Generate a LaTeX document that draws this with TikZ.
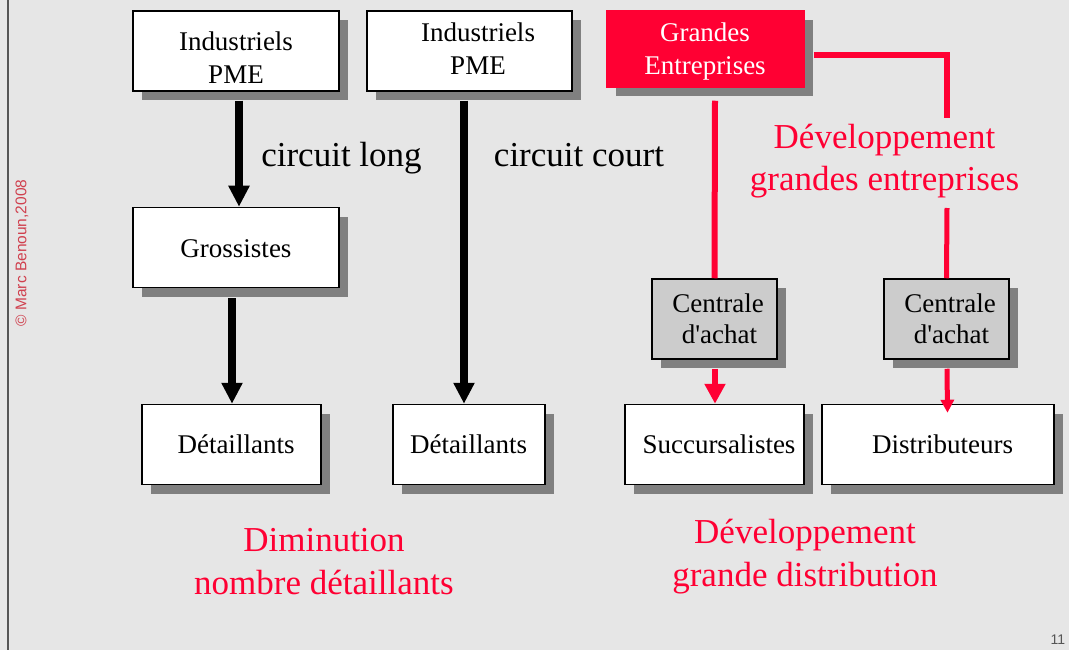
\documentclass[tikz,border=0pt]{standalone}
\usepackage{fontspec}
\setmainfont{Liberation Serif}
\setsansfont{Liberation Sans}
\usetikzlibrary{shadows,arrows.meta,calc}

\definecolor{bg}{HTML}{E6E6E6}
\definecolor{redbrand}{HTML}{FF0033}
\definecolor{shadowgray}{HTML}{808080}
\definecolor{centralgray}{HTML}{CCCCCC}
\definecolor{copyred}{HTML}{D0404E}
\definecolor{rulegray}{HTML}{555555}

\tikzset{
  box/.style={draw=black, line width=1.5pt, fill=white, inner sep=0pt,
    general shadow={fill=shadowgray, shadow xshift=9pt, shadow yshift=-9pt}},
  redbox/.style={box, draw=redbrand, fill=redbrand},
  graybox/.style={box, fill=centralgray},
  % anchor=base sits on the baseline of the last line
  boxtext/.style={anchor=base, align=center, inner sep=0pt,
    font=\fontsize{27}{33}\selectfont},
  bigtext/.style={anchor=base, align=center, inner sep=0pt,
    font=\fontsize{35}{43}\selectfont},
  blackarrow/.style={line width=8pt, -{Triangle[width=20pt,length=21pt]}},
  redline/.style={draw=redbrand, line width=6pt},
  thinredline/.style={draw=redbrand, line width=5pt},
  redarrow/.style={redline, -{Triangle[width=20pt,length=20pt]}},
  redarrowsmall/.style={thinredline, -{Triangle[width=13pt,length=13pt]}},
}

\newcommand{\achat}{d\textquotesingle achat}

\begin{document}
\begin{tikzpicture}[x=1pt, y=-1pt]
  % page background and left rule
  \path[use as bounding box, fill=bg] (0,0) rectangle (1069,650);
  \draw[rulegray, line width=1.3pt] (8,0) -- (8,650);

  % boxes
  \node[box, minimum width=206pt, minimum height=80pt] (ind1) at (236,51) {};
  \node[box, minimum width=205pt, minimum height=80pt] (ind2) at (469.5,51) {};
  \node[redbox, minimum width=197pt, minimum height=76pt] (ge) at (705.5,49) {};
  \node[box, minimum width=206pt, minimum height=80pt] (gro) at (236,247.5) {};
  \node[box, minimum width=179pt, minimum height=80pt] (det1) at (231.5,444.5) {};
  \node[box, minimum width=152pt, minimum height=80pt] (det2) at (469,444.5) {};
  \node[graybox, minimum width=125pt, minimum height=80pt] (cent1) at (714.5,319) {};
  \node[graybox, minimum width=125pt, minimum height=80pt] (cent2) at (946.5,319) {};
  \node[box, minimum width=179pt, minimum height=80pt] (succ) at (714.5,444.5) {};
  \node[box, minimum width=232pt, minimum height=80pt] (dist) at (938,444.5) {};

  % box labels
  \node[boxtext] (tind1) at (236,84) {Industriels\\PME};
  \node[boxtext] (tind2) at (478,75) {Industriels\\PME};
  \node[boxtext, text=white] (tge) at (705,75) {Grandes\\Entreprises};
  \node[boxtext] (tgro) at (236,257) {Grossistes};
  \node[boxtext] (tdet1) at (236,453) {Détaillants};
  \node[boxtext] (tdet2) at (468.5,453) {Détaillants};
  \node[boxtext, font=\fontsize{27}{31}\selectfont] (tcent1) at (718,343) {Centrale\\\hspace*{3pt}\achat};
  \node[boxtext, font=\fontsize{27}{31}\selectfont] (tcent2) at (950,343) {Centrale\\\hspace*{3pt}\achat};
  \node[boxtext] (tsucc) at (719,453) {Succursalistes};
  \node[boxtext] (tdist) at (942.5,453) {Distributeurs};

  % black flows
  \draw[blackarrow] ($(ind1.south)+(3,9)$) -- ($(gro.north)+(3,0)$);
  \draw[blackarrow] ($(gro.south)+(-4,10)$) -- ($(det1.north)+(0.5,0)$);
  \draw[blackarrow] ($(ind2.south)+(-5.5,9)$) -- ($(det2.north)+(-5,0)$);

  % red flows
  \coordinate (corner) at (947,55.5);
  \coordinate (gapa) at (947,118);
  \coordinate (gapb) at (947,208);
  \draw[redline] ($(ge.south)+(9.5,13)$) -- (cent1.north);
  \draw[redarrow] ($(cent1.south)+(0.5,9)$) -- ($(succ.north)+(0.5,0)$);
  \draw[redline, line join=miter] ($(ge.east)+(9,6.5)$) -- (corner) -- (gapa);
  \draw[thinredline] (gapb) -- (cent2.north);
  \draw[redarrowsmall] ($(cent2.south)+(0.5,9)$) -- ($(dist.north)+(9.5,9)$);

  % annotations
  \node[bigtext] (clong) at (341.5,167) {circuit long};
  \node[bigtext] (ccourt) at (579,167) {circuit court};
  \node[bigtext, text=redbrand] (dge) at (884.5,191) {Développement\\grandes entreprises};
  \node[bigtext, text=redbrand] (ddet) at (324,594) {Diminution\\nombre détaillants};
  \node[bigtext, text=redbrand] (dgd) at (805,586) {Développement\\grande distribution};

  % footer marks
  \node[rotate=90, text=copyred, inner sep=0pt,
    font=\sffamily\fontsize{15.5}{15.5}\selectfont] (copy) at (22,253) {© Marc Benoun,2008};
  \node[text=rulegray, inner sep=0pt, font=\sffamily\fontsize{14}{14}\selectfont] (pnum) at (1058,640) {11};
\end{tikzpicture}
\end{document}
